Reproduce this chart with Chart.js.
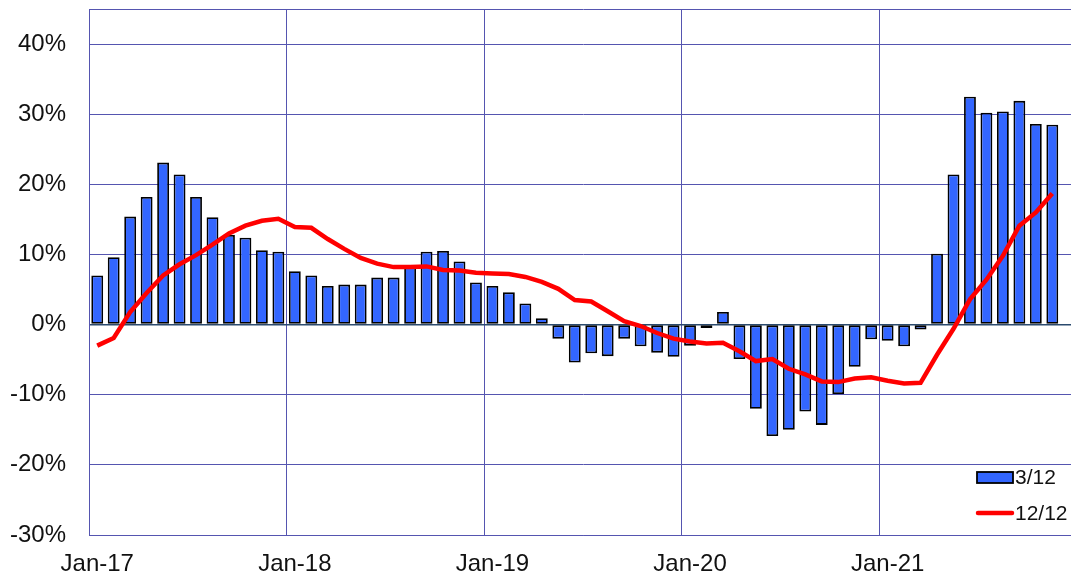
<!DOCTYPE html>
<html>
<head>
<meta charset="utf-8">
<title>3/12 vs 12/12</title>
<script src="https://cdn.jsdelivr.net/npm/chart.js@4.4.1/dist/chart.umd.min.js"></script>
<style>
  html, body { margin: 0; padding: 0; background: #fff; overflow: hidden; }
  #wrap { width: 1078px; height: 576px; position: relative; }
</style>
</head>
<body>
<div id="wrap"><canvas id="myChart"></canvas></div>
<script>
/* monthly growth chart, Jan-17 .. Dec-21 */

const years = ["17", "18", "19", "20", "21"];
const monthNames = ["Jan", "Feb", "Mar", "Apr", "May", "Jun", "Jul", "Aug", "Sep", "Oct", "Nov", "Dec"];
const yTicks = [-30, -20, -10, 0, 10, 20, 30, 40, 45];

// 3/12 (bars), % - one value per month, Dec-21 missing
const threeOverTwelve = [
  7.0, 9.6, 15.4, 18.2, 23.1, 21.4, 18.2, 15.3, 12.8, 12.4, 10.6, 10.4,
  7.6, 7.0, 5.5, 5.7, 5.7, 6.7, 6.7, 8.5, 10.4, 10.5, 9.0, 6.0,
  5.5, 4.6, 3.0, 0.9, -2.0, -5.4, -4.1, -4.5, -2.0, -3.1, -4.0, -4.6,
  -3.0, -0.5, 1.8, -4.9, -12.0, -15.9, -15.0, -12.4, -14.3, -9.9, -6.0, -2.1,
  -2.3, -3.1, -0.7, 10.1, 21.4, 32.5, 30.2, 30.4, 31.9, 28.6, 28.5, null
];

// 12/12 (line), %
const twelveOverTwelve = [
  -3.0, -1.9, 1.8, 4.5, 7.0, 8.6, 9.9, 11.4, 13.0, 14.1, 14.8, 15.1,
  13.9, 13.8, 12.2, 10.8, 9.5, 8.7, 8.2, 8.2, 8.3, 7.8, 7.7, 7.4,
  7.3, 7.2, 6.8, 6.1, 5.1, 3.5, 3.3, 1.9, 0.5, -0.2, -1.2, -2.0,
  -2.4, -2.7, -2.6, -3.8, -5.2, -4.9, -6.3, -7.1, -8.1, -8.2, -7.7, -7.5,
  -8.0, -8.4, -8.3, -4.3, -0.6, 3.6, 6.4, 9.8, 14.1, 16.0, 18.7, null
];

const labels = [];
years.forEach(y => monthNames.forEach(m => labels.push(m + "-" + y)));

const gridColor = "#5555b0";
const barColor = "#3366ff";
const lineColor = "#ff0000";

// legend drawn inside the plot area, bottom right
const innerLegend = {
  id: "innerLegend",
  afterDraw(chart) {
    const ctx = chart.ctx;
    ctx.save();
    ctx.fillStyle = barColor;
    ctx.strokeStyle = "#000";
    ctx.lineWidth = 1.8;
    ctx.fillRect(977, 472, 36, 11);
    ctx.strokeRect(977, 472, 36, 11);

    ctx.strokeStyle = lineColor;
    ctx.lineWidth = 4.5;
    ctx.lineCap = "round";
    ctx.beginPath();
    ctx.moveTo(978, 513);
    ctx.lineTo(1012, 513);
    ctx.stroke();

    ctx.fillStyle = "#111";
    ctx.font = "21px 'Liberation Sans', Arial, sans-serif";
    ctx.textBaseline = "middle";
    ctx.fillText("3/12", 1015, 478);
    ctx.fillText("12/12", 1015, 514);
    ctx.restore();
  }
};

const ctx = document.getElementById("myChart").getContext("2d");
const chart = new Chart(ctx, {
  type: "bar",
  data: {
    labels: labels,
    datasets: [
      {
        type: "line",
        label: "12/12",
        data: twelveOverTwelve,
        borderColor: lineColor,
        borderWidth: 4.5,
        pointRadius: 0,
        tension: 0,
        fill: false,
        order: 0
      },
      {
        label: "3/12",
        data: threeOverTwelve,
        backgroundColor: barColor,
        borderColor: "#000",
        borderWidth: 1.8,
        borderSkipped: false,
        categoryPercentage: 1,
        barPercentage: 0.72,
        order: 1
      }
    ]
  },
  options: {
    responsive: true,
    maintainAspectRatio: false,
    animation: false,
    layout: { padding: { top: 9, right: 1, left: 0, bottom: 0 } },
    plugins: {
      legend: { display: false },
      tooltip: { enabled: false }
    },
    scales: {
      x: {
        offset: true,
        grid: {
          offset: true,
          drawTicks: false,
          color: c => (c.index % 12 === 0 ? gridColor : "rgba(0,0,0,0)"),
          lineWidth: 1
        },
        border: { display: true, color: gridColor, width: 1 },
        ticks: {
          autoSkip: false,
          maxRotation: 0,
          padding: 15,
          color: "#111",
          font: { family: "'Liberation Sans', Arial, sans-serif", size: 24 },
          callback: (val, i) => (i % 12 === 0 ? labels[i] : "")
        },
        afterFit: scale => {
          scale.height = 41;
          scale.paddingLeft = 0;
          scale.paddingRight = 0;
        }
      },
      y: {
        min: -30,
        max: 45,
        afterBuildTicks: scale => {
          scale.ticks = yTicks.map(v => ({ value: v }));
        },
        grid: {
          drawTicks: false,
          color: c => (c.tick && c.tick.value === 0 ? "#2b4a6e" : gridColor),
          lineWidth: c => (c.tick && c.tick.value === 0 ? 1.5 : 1)
        },
        border: { display: true, color: gridColor, width: 1 },
        ticks: {
          padding: 23,
          color: "#111",
          font: { family: "'Liberation Sans', Arial, sans-serif", size: 24 },
          callback: v => (v === 45 ? "" : v + "%")
        },
        afterFit: scale => {
          scale.width = 89;
          scale.paddingTop = 0;
          scale.paddingBottom = 0;
        }
      }
    }
  },
  plugins: [innerLegend]
});
</script>
</body>
</html>
